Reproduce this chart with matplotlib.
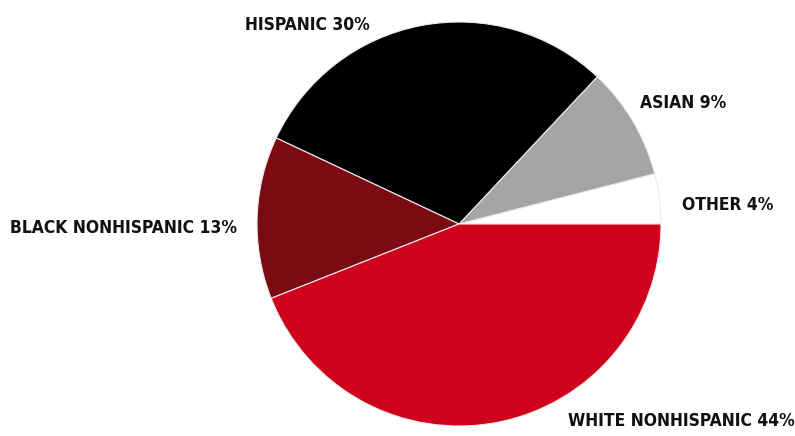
import matplotlib
matplotlib.use("Agg")
import matplotlib.pyplot as plt

labels = ["OTHER 4%", "ASIAN 9%", "HISPANIC 30%", "BLACK NONHISPANIC 13%", "WHITE NONHISPANIC 44%"]
values = [4, 9, 30, 13, 44]
colors = ["#ffffff", "#a5a5a5", "#000000", "#7b0a13", "#d0011b"]

W, H = 795, 436
fig = plt.figure(figsize=(W / 100, H / 100), dpi=100)
ax = fig.add_axes([0, 0, 1, 1])

ax.pie(values, colors=colors, startangle=0, counterclock=True,
       center=(459, H - 224), radius=202, frame=True,
       wedgeprops=dict(edgecolor="#ececec", linewidth=0.8))
ax.set_xlim(0, W)
ax.set_ylim(0, H)
ax.set_aspect("equal")
ax.axis("off")

font = dict(family=["DejaVu Sans"], fontstretch="condensed", fontweight="bold",
            color="#111111", fontsize=12.5, va="center")
pos = {
    "OTHER 4%": (682, 205, "left"),
    "ASIAN 9%": (640, 103, "left"),
    "HISPANIC 30%": (245, 25, "left"),
    "BLACK NONHISPANIC 13%": (10, 228, "left"),
    "WHITE NONHISPANIC 44%": (568, 421, "left"),
}
for lab in labels:
    x, y, ha = pos[lab]
    ax.text(x, H - y, lab, ha=ha, **font)

fig.savefig("out.png", dpi=100)
